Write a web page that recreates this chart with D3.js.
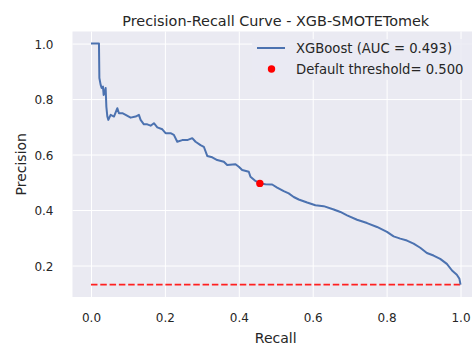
<!DOCTYPE html>
<html>
<head>
<meta charset="utf-8">
<script src="https://cdn.jsdelivr.net/npm/d3@7"></script>
<style>
  html, body { margin: 0; padding: 0; background: #fff; }
  svg { display: block; font-family: "DejaVu Sans", sans-serif; }
  .tick text { fill: #262626; }
</style>
</head>
<body>
<div id="chart"></div>
<script>
// PR curve (recall, precision)
const recall = [0.0, 0.0216, 0.0227, 0.0262, 0.0289, 0.0324, 0.0343, 0.037, 0.0397, 0.0416,
  0.0443, 0.047, 0.0532, 0.0622, 0.0714, 0.0757, 0.0849, 0.0938, 0.1073, 0.1208,
  0.1297, 0.1343, 0.1432, 0.1524, 0.1614, 0.1703, 0.1795, 0.193, 0.2019, 0.2154,
  0.2243, 0.2335, 0.247, 0.2605, 0.274, 0.283, 0.2965, 0.3054, 0.3146, 0.3281,
  0.3416, 0.3595, 0.3686, 0.3911, 0.4, 0.4092, 0.427, 0.4316, 0.4451, 0.4568,
  0.4722, 0.4903, 0.5038, 0.5216, 0.5351, 0.5486, 0.5622, 0.5849, 0.6073, 0.6297,
  0.6568, 0.6749, 0.693, 0.72, 0.747, 0.774, 0.801, 0.819, 0.837, 0.855,
  0.873, 0.891, 0.909, 0.927, 0.945, 0.963, 0.977, 0.990, 0.997, 1.0];
const precision = [1.0, 1.0, 0.876, 0.851, 0.840, 0.845, 0.815, 0.823, 0.840, 0.773,
  0.737, 0.725, 0.743, 0.737, 0.767, 0.749, 0.749, 0.743, 0.733, 0.737,
  0.743, 0.725, 0.709, 0.709, 0.704, 0.713, 0.698, 0.691, 0.677, 0.677,
  0.671, 0.646, 0.652, 0.652, 0.659, 0.646, 0.634, 0.628, 0.595, 0.590,
  0.580, 0.574, 0.562, 0.565, 0.556, 0.544, 0.538, 0.520, 0.505, 0.496,
  0.493, 0.492, 0.481, 0.468, 0.460, 0.447, 0.438, 0.427, 0.417, 0.414,
  0.402, 0.393, 0.381, 0.365, 0.353, 0.339, 0.321, 0.305, 0.297, 0.290,
  0.279, 0.264, 0.245, 0.236, 0.224, 0.206, 0.182, 0.167, 0.152, 0.131];

const baseline = 0.131;                 // no-skill line
const thresholdPoint = { recall: 0.457, precision: 0.496 };

const xTicks = [0.0, 0.2, 0.4, 0.6, 0.8, 1.0];
const yTicks = [0.2, 0.4, 0.6, 0.8, 1.0];

const titleText = 'Precision-Recall Curve - XGB-SMOTETomek';
const legendLabels = ['XGBoost (AUC = 0.493)', 'Default threshold= 0.500'];

const width = 472;
const height = 348;
const margin = { top: 31.5, right: -7, bottom: 51, left: 72.5 };

const plot = {
  left: margin.left,
  right: width - margin.right,
  top: margin.top,
  bottom: height - margin.bottom,
};

const svg = d3.select('#chart')
  .append('svg')
  .attr('width', width)
  .attr('height', height);

const x = d3.scaleLinear().domain([-0.05, 1.05]).range([plot.left, plot.right]);
const y = d3.scaleLinear().domain([0.0865, 1.0435]).range([plot.bottom, plot.top]);

// axes background
svg.append('rect')
  .attr('x', plot.left)
  .attr('y', plot.top)
  .attr('width', plot.right - plot.left)
  .attr('height', plot.bottom - plot.top)
  .attr('fill', '#EAEAF2');

// gridlines
svg.append('g')
  .attr('transform', `translate(0, ${plot.bottom})`)
  .call(d3.axisBottom(x).tickValues(xTicks).tickFormat('').tickSize(-(plot.bottom - plot.top)))
  .call(g => g.select('.domain').remove())
  .call(g => g.selectAll('line').attr('stroke', '#fff').attr('stroke-width', 1));

svg.append('g')
  .attr('transform', `translate(${plot.left}, 0)`)
  .call(d3.axisLeft(y).tickValues(yTicks).tickFormat('').tickSize(-(plot.right - plot.left)))
  .call(g => g.select('.domain').remove())
  .call(g => g.selectAll('line').attr('stroke', '#fff').attr('stroke-width', 1));

// tick labels
const xAxis = svg.append('g')
  .attr('transform', `translate(0, ${plot.bottom})`)
  .call(d3.axisBottom(x).tickValues(xTicks).tickFormat(d3.format('.1f')).tickSize(0).tickPadding(16))
  .call(g => g.select('.domain').remove());
xAxis.selectAll('text').attr('font-size', 12).attr('font-family', 'DejaVu Sans');

const yAxis = svg.append('g')
  .attr('transform', `translate(${plot.left}, 0)`)
  .call(d3.axisLeft(y).tickValues(yTicks).tickFormat(d3.format('.1f')).tickSize(0).tickPadding(19))
  .call(g => g.select('.domain').remove());
yAxis.selectAll('text').attr('font-size', 12).attr('font-family', 'DejaVu Sans').attr('dy', '0.4em');

// baseline (dashed)
svg.append('line')
  .attr('x1', x(0))
  .attr('x2', x(1))
  .attr('y1', y(baseline))
  .attr('y2', y(baseline))
  .attr('stroke', '#ff2020')
  .attr('stroke-width', 1.75)
  .attr('stroke-dasharray', '6.5,2.8');

// PR curve
const points = recall.map((r, i) => [r, precision[i]]);
const line = d3.line().x(d => x(d[0])).y(d => y(d[1]));

svg.append('path')
  .datum(points)
  .attr('d', line)
  .attr('fill', 'none')
  .attr('stroke', '#4C72B0')
  .attr('stroke-width', 2)
  .attr('stroke-linejoin', 'round');

// default threshold point
svg.append('circle')
  .attr('cx', x(thresholdPoint.recall))
  .attr('cy', y(thresholdPoint.precision))
  .attr('r', 3.7)
  .attr('fill', 'red');

// title and axis labels
svg.append('text')
  .attr('x', (plot.left + plot.right) / 2)
  .attr('y', 26)
  .attr('text-anchor', 'middle')
  .attr('font-size', 14.4)
  .attr('fill', '#262626')
  .text(titleText);

svg.append('text')
  .attr('x', (plot.left + plot.right) / 2)
  .attr('y', 343)
  .attr('text-anchor', 'middle')
  .attr('font-size', 14)
  .attr('fill', '#262626')
  .text('Recall');

svg.append('text')
  .attr('transform', `translate(26, ${(plot.top + plot.bottom) / 2}) rotate(-90)`)
  .attr('text-anchor', 'middle')
  .attr('font-size', 14)
  .attr('fill', '#262626')
  .text('Precision');

// legend
const legend = svg.append('g');
legend.append('rect')
  .attr('x', 252)
  .attr('y', 39)
  .attr('width', 222)
  .attr('height', 41)
  .attr('rx', 3)
  .attr('fill', '#EAEAF2')
  .attr('fill-opacity', 0.8);

legend.append('line')
  .attr('x1', 257).attr('x2', 285)
  .attr('y1', 48).attr('y2', 48)
  .attr('stroke', '#4C72B0')
  .attr('stroke-width', 2);

legend.append('circle')
  .attr('cx', 271.5).attr('cy', 69)
  .attr('r', 3.7)
  .attr('fill', 'red');

legend.selectAll('text.label')
  .data(legendLabels)
  .join('text')
  .attr('class', 'label')
  .attr('x', 296)
  .attr('y', (d, i) => 48 + i * 21)
  .attr('dy', '0.35em')
  .attr('font-size', 13.2)
  .attr('fill', '#262626')
  .text(d => d);
</script>
</body>
</html>
